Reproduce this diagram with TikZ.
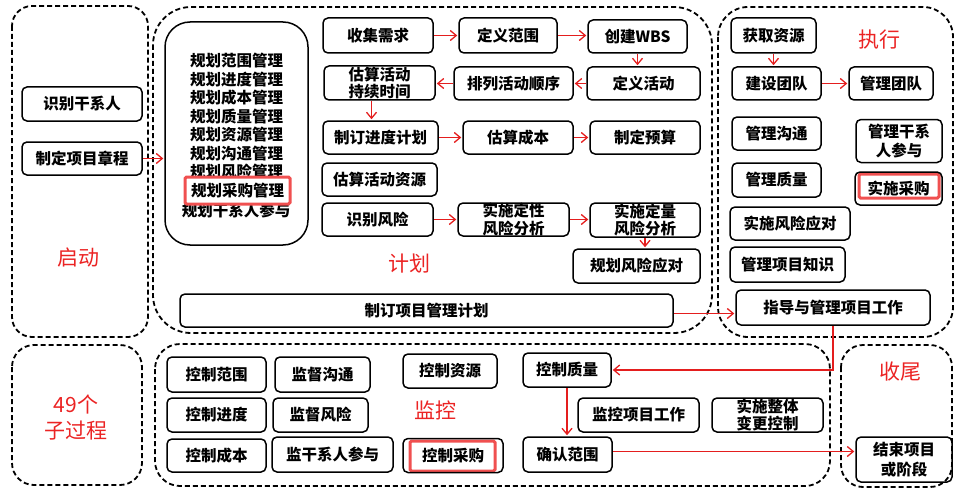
\documentclass[tikz,border=0pt]{standalone}
\usepackage{fontspec}
\setmainfont{Noto Sans CJK SC}
\usetikzlibrary{arrows.meta}
\definecolor{arrred}{RGB}{228,30,30}
\definecolor{lblred}{RGB}{235,35,35}
\definecolor{hlred}{RGB}{240,80,80}
\begin{document}
\begin{tikzpicture}[x=1pt,y=-1pt,
  box/.style={draw=black, line width=1.5pt, rounded corners=5pt, inner sep=0pt, align=center,
    font=\fontsize{15.5}{17.5}\selectfont\bfseries},
  dbox/.style={draw=black, line width=1.8pt, dash pattern=on 5pt off 3pt},
  arr/.style={draw=arrred, line width=1.3pt, -{Straight Barb[length=6pt,width=10pt]}, shorten >=1pt},
  lbl/.style={text=lblred, font=\fontsize{21}{25}\selectfont, align=center, inner sep=0pt},
  hlbox/.style={draw=hlred, line width=3pt, rounded corners=1.5pt, inner sep=0pt}]
\useasboundingbox (0,0) rectangle (957,492);
% dashed phase regions
\draw[dbox, rounded corners=20pt] (12,6) rectangle (148,337);
\draw[dbox, rounded corners=38pt] (153,7) rectangle (712,333);
\draw[dbox, rounded corners=30pt] (718,7) rectangle (953,337);
\draw[dbox, rounded corners=22pt] (12,345) rectangle (142,485);
\draw[dbox, rounded corners=25pt] (155,344) rectangle (830,486);
\draw[dbox, rounded corners=22pt] (841,345) rectangle (952,487);
% labels
\node[lbl] (lqd) at (78,258) {启动};
\node[lbl] (ljh) at (409,264) {计划};
\node[lbl] (lzx) at (879,40) {执行};
\node[lbl] (ljk) at (435,410) {监控};
\node[lbl] (lsw) at (900,372) {收尾};
\node[lbl] (lzgc) at (76,418) {49个\\[1pt]子过程};
% initiating
\node[box, minimum width=120, minimum height=34] (sh) at (82,104) {识别干系人};
\node[box, minimum width=120, minimum height=33] (zc) at (82,158.5) {制定项目章程};
% planning list
\node[box, rounded corners=25pt, minimum width=143, minimum height=223] (plist) at (236.5,133.5) {};
\node[inner sep=0pt, align=center, font=\fontsize{15.5}{18.5}\selectfont\bfseries] (plines) at (236.5,116.5)
  {规划范围管理\\规划进度管理\\规划成本管理\\规划质量管理\\规划资源管理\\规划沟通管理\\规划风险管理};
\node[inner sep=0pt, font=\fontsize{15.5}{18.5}\selectfont\bfseries] (pgx) at (236,210) {规划干系人参与};
\node[hlbox, fill=white, minimum width=105, minimum height=27, font=\fontsize{15.5}{18.5}\selectfont\bfseries] (pcg) at (237.5,190.5) {规划采购管理};
% planning processes
\node[box, minimum width=110, minimum height=35] (sj) at (378,35.5) {收集需求};
\node[box, minimum width=98, minimum height=35] (dyfw) at (508,35.5) {定义范围};
\node[box, minimum width=99, minimum height=33] (wbs) at (637.5,36.5) {创建WBS};
\node[box, minimum width=113, minimum height=33] (dyhd) at (643.5,83.5) {定义活动};
\node[box, minimum width=119, minimum height=33] (pl) at (513.5,83.5) {排列活动顺序};
\node[box, minimum width=111, minimum height=34] (gschx) at (379.5,83) {估算活动\\持续时间};
\node[box, minimum width=115, minimum height=33] (zdjd) at (380.5,137.5) {制订进度计划};
\node[box, minimum width=110, minimum height=33] (gscb) at (518,137.5) {估算成本};
\node[box, minimum width=110, minimum height=33] (zdys) at (645,137.5) {制定预算};
\node[box, minimum width=115, minimum height=33] (gszy) at (379.5,179.5) {估算活动资源};
\node[box, minimum width=111, minimum height=33] (sbfx) at (377.5,219.5) {识别风险};
\node[box, minimum width=111, minimum height=33] (dx) at (513.5,219.5) {实施定性\\风险分析};
\node[box, minimum width=110, minimum height=34] (dl) at (645,220) {实施定量\\风险分析};
\node[box, minimum width=127, minimum height=34] (gh) at (636.5,266) {规划风险应对};
\node[box, minimum width=493, minimum height=33] (xm) at (426.5,310.5) {制订项目管理计划};
% executing
\node[box, minimum width=85, minimum height=35] (hq) at (773.5,35.5) {获取资源};
\node[box, minimum width=89, minimum height=33] (js) at (776.5,83.5) {建设团队};
\node[box, minimum width=84, minimum height=33] (gltd) at (891,83.5) {管理团队};
\node[box, minimum width=89, minimum height=33] (glgt) at (776.5,133.5) {管理沟通};
\node[box, minimum width=89, minimum height=34] (glzl) at (776.5,180) {管理质量};
\node[box, minimum width=120, minimum height=33] (ssfx) at (790,223.5) {实施风险应对};
\node[box, minimum width=115, minimum height=35] (glzs) at (787.5,264.5) {管理项目知识};
\node[box, minimum width=86, minimum height=43, font=\fontsize{15.5}{19}\selectfont\bfseries] (glgx) at (899,141) {管理干系\\人参与};
\node[hlbox, minimum width=80, minimum height=24] (sscghl) at (899,186) {};
\node[box, minimum width=87, minimum height=33] (sscg) at (898.5,188.5) {实施采购};
\node[box, minimum width=194, minimum height=35] (zd) at (833,307.5) {指导与管理项目工作};
% monitoring & controlling
\node[box, minimum width=99, minimum height=35] (kzfw) at (216.5,374.5) {控制范围};
\node[box, minimum width=99, minimum height=34] (kzjd) at (216.5,415) {控制进度};
\node[box, minimum width=99, minimum height=33] (kzcb) at (216.5,455.5) {控制成本};
\node[box, minimum width=95, minimum height=35] (jdgt) at (322.5,374.5) {监督沟通};
\node[box, minimum width=95, minimum height=34] (jdfx) at (320.5,415) {监督风险};
\node[box, minimum width=121, minimum height=35] (jgx) at (332.5,454.5) {监干系人参与};
\node[box, minimum width=94, minimum height=34] (kzzy) at (450,371) {控制资源};
\node[box, minimum width=88, minimum height=34] (kzzl) at (567,370) {控制质量};
\node[box, minimum width=121, minimum height=34] (jkxm) at (638.5,415) {监控项目工作};
\node[box, minimum width=111, minimum height=34] (ssbg) at (767.5,415) {实施整体\\变更控制};
\node[hlbox, minimum width=85, minimum height=30] (kzcghl) at (452.5,456) {};
\node[box, minimum width=100, minimum height=34] (kzcg) at (453,455.5) {控制采购};
\node[box, minimum width=89, minimum height=35] (qrfw) at (567.5,454.5) {确认范围};
% closing
\node[box, minimum width=96, minimum height=45, font=\fontsize{15.5}{20}\selectfont\bfseries] (jsxm) at (904,459.5) {结束项目\\或阶段};
% connectors
\draw[arr] (zc.east) -- (zc.east -| plist.west);
\draw[arr] (sj.east) -- (sj.east -| dyfw.west);
\draw[arr] (dyfw.east) -- (dyfw.east -| wbs.west);
\draw[arr] (wbs.south) -- (wbs.south |- dyhd.north);
\draw[arr] (dyhd.west) -- (dyhd.west -| pl.east);
\draw[arr] (pl.west) -- (pl.west -| gschx.east);
\draw[arr] ([xshift=-8pt]gschx.south) -- ([xshift=-8pt]gschx.south |- zdjd.north);
\draw[arr] (zdjd.east) -- (zdjd.east -| gscb.west);
\draw[arr] (gscb.east) -- (gscb.east -| zdys.west);
\draw[arr] (sbfx.east) -- (sbfx.east -| dx.west);
\draw[arr] (dx.east) -- (dx.east -| dl.west);
\draw[arr] (dl.south) -- (dl.south |- gh.north);
\draw[arr] (hq.south) -- (hq.south |- js.north);
\draw[arr] (js.east) -- (js.east -| gltd.west);
\draw[arr] ([yshift=-3pt]xm.east) -- ([yshift=-3pt]xm.east -| zd.west);
\draw[arr] (zd.south) |- (kzzl.east);
\draw[arr] (kzzl.south) -- (kzzl.south |- qrfw.north);
\draw[arr] ([yshift=3pt]qrfw.east) -- ([yshift=3pt]qrfw.east -| jsxm.west);
\end{tikzpicture}
\end{document}
